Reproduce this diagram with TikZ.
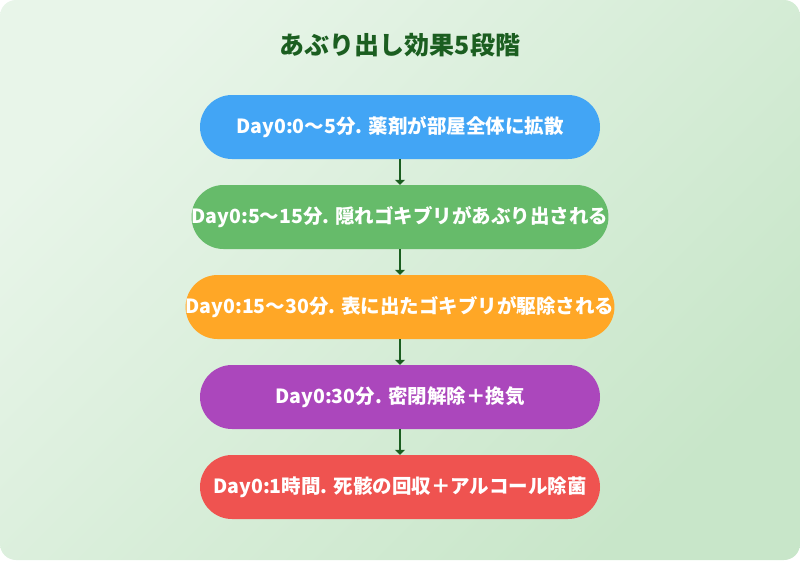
\documentclass[tikz,border=0pt]{standalone}
\usepackage{fontspec}
\setmainfont{Noto Sans CJK JP}
\usetikzlibrary{arrows.meta}
\definecolor{bgA}{HTML}{E8F5E9}\definecolor{bgB}{HTML}{C8E6C9}
\definecolor{ttl}{HTML}{1B5E20}
\definecolor{cA}{HTML}{42A5F5}\definecolor{cB}{HTML}{66BB6A}
\definecolor{cC}{HTML}{FFA726}\definecolor{cD}{HTML}{AB47BC}\definecolor{cE}{HTML}{EF5350}
\begin{document}
\begin{tikzpicture}[x=1pt,y=-1pt,
  stepbox/.style={rounded corners=32pt,minimum width=400pt,minimum height=64pt,inner sep=0pt,text=white,font=\bfseries\fontsize{19.5pt}{22pt}\selectfont},
  conn/.style={draw=ttl,line width=2.2pt,-{Triangle[width=10pt,length=5pt]}}]
\useasboundingbox (0,0) rectangle (800,560);
\shade[left color=bgA,right color=bgB,shading angle=45,rounded corners=16pt] (0,0) rectangle (800,560);
\node[text=ttl,font=\bfseries\fontsize{25pt}{28pt}\selectfont] (t) at (400,45) {あぶり出し効果5段階};
\node[stepbox,fill=cA] (a) at (400,127) {Day0:0〜5分. 薬剤が部屋全体に拡散};
\node[stepbox,fill=cB] (b) at (400,217) {Day0:5〜15分. 隠れゴキブリがあぶり出される};
\node[stepbox,fill=cC] (c) at (400,307) {Day0:15〜30分. 表に出たゴキブリが駆除される};
\node[stepbox,fill=cD] (d) at (400,397) {Day0:30分. 密閉解除＋換気};
\node[stepbox,fill=cE] (e) at (400,487) {Day0:1時間. 死骸の回収＋アルコール除菌};
\draw[conn] (a) -- (b);
\draw[conn] (b) -- (c);
\draw[conn] (c) -- (d);
\draw[conn] (d) -- (e);
\end{tikzpicture}
\end{document}
